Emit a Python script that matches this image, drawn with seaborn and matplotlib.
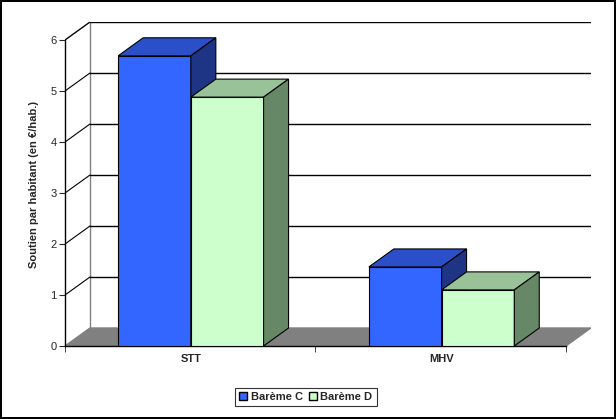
import matplotlib
matplotlib.use("Agg")
import matplotlib.pyplot as plt
import seaborn as sns
import pandas as pd
from matplotlib.patches import Polygon, Patch

categories = ["STT", "MHV"]
bareme_c = [5.69, 1.55]
bareme_d = [4.88, 1.10]
series_names = ["Barème C", "Barème D"]
y_ticks = [0, 1, 2, 3, 4, 5, 6]

sns.set_style("white")
plt.rcParams['font.family'] = ['Liberation Sans', 'DejaVu Sans']

W, H = 616, 419
fig = plt.figure(figsize=(W/100, H/100), dpi=100)
fig.patch.set_edgecolor('black'); fig.patch.set_linewidth(1.5)
x0, x1 = -0.502, 1.596
dx, dy = 0.0996, 0.353
ytop = 6 + dy
ax = fig.add_axes([65/W, (H-346)/H, 526/W, 324/H])
ax.set_xlim(x0, x1); ax.set_ylim(0, ytop)
for s in ['top', 'right']:
    ax.spines[s].set_visible(False)
ax.spines['left'].set_bounds(0, 6)
ax.spines['bottom'].set_bounds(x0, 1.496)
for s in ['left', 'bottom']:
    ax.spines[s].set_color('black'); ax.spines[s].set_linewidth(1)

# floor and walls
ax.add_patch(Polygon([(x0, 0), (1.496, 0), (1.496+dx, dy), (x0+dx, dy)], closed=True,
                     facecolor='#808080', edgecolor='#808080', zorder=1))
ax.plot([x0+dx, x0+dx], [dy, ytop], color='#808080', lw=1, zorder=1)
ax.plot([x0, x0+dx], [6, ytop], color='#808080', lw=1, zorder=1)
for v in y_ticks[1:]:
    ax.plot([x0+dx, x1], [v+dy, v+dy], color='black', lw=1, zorder=1)
    ax.plot([x0, x0+dx], [v, v+dy], color='black', lw=0.8, zorder=1)

bw = 0.29
df = pd.DataFrame({"cat": categories, "C": bareme_c, "D": bareme_d})
xs = list(range(len(categories)))
styles = [("C", -bw, '#3366FF', '#2A4FC8', '#1E3585'),
          ("D", 0.0, '#CCFFCC', '#99C299', '#668866')]
for i, c in enumerate(xs):
    for col, off, fc, tc, sc in styles:
        v = df[col][i]
        xl = c + off; xr = xl + bw
        ax.bar([xl], [v], width=bw, align='edge', color=fc, edgecolor='black', lw=0.8, zorder=3)
        ax.add_patch(Polygon([(xl, v), (xr, v), (xr+dx, v+dy), (xl+dx, v+dy)], closed=True,
                             facecolor=tc, edgecolor='black', lw=0.8, zorder=3))
        ax.add_patch(Polygon([(xr, 0), (xr+dx, dy), (xr+dx, v+dy), (xr, v)], closed=True,
                             facecolor=sc, edgecolor='black', lw=0.8, zorder=3))

ax.set_yticks(y_ticks)
ax.set_yticklabels([str(t) for t in y_ticks], fontsize=8)
ax.set_xticks(xs)
ax.set_xticklabels(categories, fontsize=8, fontweight='bold')
ax.set_xticks([x0, 0.497, 1.496], minor=True)
ax.tick_params(axis='x', which='major', length=0, pad=6)
ax.tick_params(axis='x', which='minor', length=4, direction='out', bottom=True)
ax.tick_params(axis='y', length=4, direction='out', left=True, pad=2)
ax.set_ylabel("Soutien par habitant (en €/hab.)", fontsize=8, fontweight='bold', labelpad=8)

handles = [Patch(facecolor=styles[0][2], edgecolor='black', label=series_names[0]),
           Patch(facecolor=styles[1][2], edgecolor='black', label=series_names[1])]
leg = fig.legend(handles=handles, loc='center', bbox_to_anchor=(306/W, 1-397/H), ncol=2,
                 fontsize=8, frameon=True, fancybox=False, edgecolor='black',
                 handlelength=0.7, handleheight=0.7, handletextpad=0.3, columnspacing=0.6,
                 borderpad=0.4, prop={'weight': 'bold', 'size': 8})
leg.get_frame().set_linewidth(0.8)
fig.savefig("out.png", dpi=100, edgecolor=fig.get_edgecolor())
